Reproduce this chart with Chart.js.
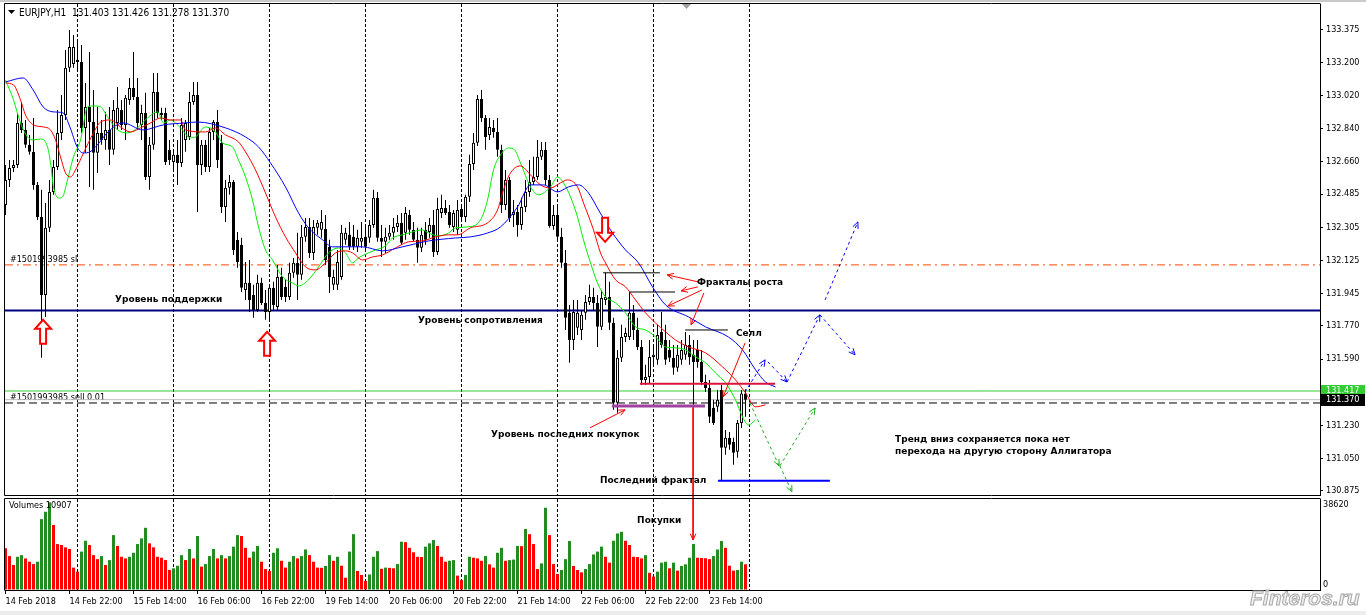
<!DOCTYPE html>
<html lang="ru">

<head>
  <meta charset="UTF-8">
  <title>EURJPY,H1</title>
  <style>
    html, body { margin: 0; padding: 0; background: #fff; }
    body { width: 1366px; height: 615px; position: relative; overflow: hidden; }
    #topEdge { position: absolute; left: 0; top: 0; width: 1366px; height: 2px; background: #c8c8c8; }
    #mainBox { position: absolute; left: 0; top: 0; width: 1366px; height: 497px; }
    #volBox { position: absolute; left: 0; top: 497px; width: 1366px; height: 118px; }
    #status { position: absolute; left: 0; top: 611px; width: 1366px; height: 4px; background: #ececec; }
    #mark {
      position: absolute; left: 1250px; top: 586px;
      font: italic bold 21px "Liberation Sans", Arial, sans-serif;
      color: #eeeeee; -webkit-text-stroke: 1px #a9a9a9;
    }
  </style>
</head>

<body>
  <div id="topEdge"></div>
  <div id="mainBox"><canvas id="mainChart" width="1366" height="497"></canvas></div>
  <div id="volBox"><canvas id="volChart" width="1366" height="118"></canvas></div>
  <div id="status"></div>
  <div id="mark">Finteros.ru</div>

  <script src="https://cdn.jsdelivr.net/npm/chart.js"></script>

  <script>
    /* EURJPY H1, bars 0..185 (14 Feb 06:00 .. 23 Feb 23:00) */
    const timeLabels = ['14 Feb 2018', '14 Feb 22:00', '15 Feb 14:00', '16 Feb 06:00', '16 Feb 22:00', '19 Feb 14:00',
      '20 Feb 06:00', '20 Feb 22:00', '21 Feb 14:00', '22 Feb 06:00', '22 Feb 22:00', '23 Feb 14:00']
    const labelBars = [0, 16, 32, 48, 64, 80, 96, 112, 128, 144, 160, 176]
    const daySeps = [18, 42, 66, 90, 114, 138, 162, 186]
    const priceTicks = [133.375, 133.200, 133.020, 132.840, 132.660, 132.485, 132.305, 132.125, 131.945,
      131.770, 131.590, 131.230, 131.050, 130.875]

    const opens = [132.426, 132.562, 132.627, 132.643, 132.871, 132.833, 132.752, 132.714, 132.535, 132.361,
      131.938, 132.302, 132.497, 132.632, 132.817, 132.914, 133.170, 133.191, 133.213, 133.202,
      132.844, 132.958, 132.876, 132.709, 132.817, 132.779, 132.833, 132.725, 132.871, 132.941,
      132.860, 132.996, 133.061, 133.012, 132.860, 132.925, 132.578, 132.752, 133.039, 132.914,
      132.925, 132.725, 132.659, 132.698, 132.654, 132.779, 132.795, 132.985, 133.023, 132.643,
      132.752, 132.632, 132.822, 132.876, 132.763, 132.415, 132.519, 132.551, 132.237, 132.210,
      131.965, 132.004, 131.938, 131.857, 132.004, 131.895, 131.846, 131.977, 131.873, 132.036,
      131.982, 131.927, 132.058, 132.112, 132.047, 132.253, 132.307, 132.166, 132.302, 132.291,
      132.296, 132.199, 131.993, 131.993, 132.036, 132.237, 132.264, 132.253, 132.199, 132.226,
      132.253, 132.248, 132.318, 132.465, 132.248, 132.226, 132.253, 132.275, 132.307, 132.329,
      132.275, 132.372, 132.291, 132.237, 132.194, 132.291, 132.280, 132.318, 132.171, 132.383,
      132.410, 132.388, 132.307, 132.291, 132.404, 132.361, 132.470, 132.648, 132.763, 133.001,
      132.898, 132.806, 132.844, 132.822, 132.725, 132.426, 132.562, 132.372, 132.388, 132.318,
      132.415, 132.497, 132.551, 132.578, 132.687, 132.725, 132.562, 132.312, 132.372, 132.253,
      132.112, 131.841, 131.694, 131.760, 131.748, 131.841, 131.900, 131.927, 131.895, 131.765,
      131.911, 131.927, 131.787, 131.353, 131.597, 131.710, 131.710, 131.841, 131.748, 131.656,
      131.477, 131.493, 131.602, 131.586, 131.737, 131.694, 131.640, 131.597, 131.543, 131.586,
      131.613, 131.667, 131.613, 131.640, 131.575, 131.466, 131.434, 131.326, 131.331, 131.423,
      131.109, 131.163, 131.141, 131.087, 131.244, 131.403]
    const highs = [132.643, 132.670, 132.670, 132.925, 132.980, 132.887, 132.806, 132.898, 132.551, 132.508,
      132.437, 132.562, 132.670, 132.941, 133.023, 133.267, 133.375, 133.348, 133.310, 133.294,
      133.088, 133.256, 133.050, 132.958, 132.887, 132.930, 132.958, 132.996, 133.066, 132.996,
      133.023, 133.115, 133.256, 133.115, 132.969, 133.034, 132.795, 133.142, 133.142, 132.953,
      132.953, 132.779, 132.725, 132.779, 132.898, 132.887, 133.039, 133.093, 133.093, 132.779,
      132.779, 132.844, 132.887, 132.941, 132.806, 132.562, 132.589, 132.562, 132.280, 132.248,
      132.117, 132.128, 131.993, 132.047, 132.031, 131.965, 131.993, 132.009, 132.101, 132.085,
      132.020, 132.112, 132.139, 132.275, 132.318, 132.356, 132.356, 132.345, 132.345, 132.399,
      132.372, 132.237, 132.074, 132.182, 132.318, 132.302, 132.334, 132.318, 132.291, 132.334,
      132.318, 132.345, 132.508, 132.497, 132.318, 132.302, 132.318, 132.356, 132.372, 132.383,
      132.415, 132.399, 132.334, 132.302, 132.302, 132.334, 132.356, 132.399, 132.465, 132.481,
      132.453, 132.426, 132.399, 132.453, 132.426, 132.481, 132.698, 132.817, 133.023, 133.050,
      132.914, 132.898, 132.887, 132.898, 132.752, 132.616, 132.578, 132.453, 132.426, 132.465,
      132.562, 132.670, 132.687, 132.779, 132.768, 132.768, 132.589, 132.426, 132.426, 132.302,
      132.182, 131.884, 131.911, 131.911, 131.857, 131.938, 131.993, 131.977, 131.938, 131.965,
      132.058, 132.009, 131.814, 131.640, 131.776, 131.760, 131.954, 131.884, 131.814, 131.694,
      131.559, 131.694, 131.667, 131.776, 131.846, 131.776, 131.694, 131.667, 131.667, 131.694,
      131.737, 131.721, 131.694, 131.694, 131.640, 131.505, 131.477, 131.369, 131.423, 131.450,
      131.206, 131.195, 131.163, 131.260, 131.423, 131.426]
    const lows = [132.372, 132.524, 132.605, 132.627, 132.817, 132.736, 132.698, 132.508, 132.345, 131.597,
      131.819, 132.280, 132.481, 132.616, 132.779, 132.887, 133.147, 133.170, 133.158, 132.817,
      132.709, 132.524, 132.508, 132.600, 132.752, 132.725, 132.643, 132.698, 132.833, 132.833,
      132.779, 132.969, 132.996, 132.833, 132.779, 132.562, 132.508, 132.725, 132.898, 132.887,
      132.643, 132.643, 132.616, 132.535, 132.632, 132.714, 132.779, 132.969, 132.388, 132.589,
      132.605, 132.605, 132.779, 132.627, 132.383, 132.334, 132.481, 132.155, 132.085, 131.954,
      131.911, 131.846, 131.814, 131.846, 131.884, 131.803, 131.803, 131.857, 131.857, 131.911,
      131.900, 131.911, 132.031, 131.911, 132.020, 132.226, 132.139, 132.128, 132.264, 132.248,
      132.101, 131.949, 131.965, 131.965, 132.020, 132.210, 132.182, 132.182, 132.171, 132.194,
      132.182, 132.221, 132.302, 132.226, 132.144, 132.166, 132.237, 132.237, 132.280, 132.210,
      132.237, 132.264, 132.226, 132.112, 132.171, 132.210, 132.248, 132.144, 132.155, 132.356,
      132.372, 132.302, 132.280, 132.264, 132.334, 132.334, 132.442, 132.616, 132.746, 132.876,
      132.725, 132.779, 132.790, 132.687, 132.383, 132.399, 132.334, 132.307, 132.253, 132.291,
      132.388, 132.470, 132.535, 132.562, 132.670, 132.535, 132.302, 132.291, 132.237, 132.085,
      131.748, 131.570, 131.640, 131.721, 131.694, 131.803, 131.884, 131.857, 131.656, 131.748,
      131.884, 131.748, 131.315, 131.299, 131.575, 131.683, 131.694, 131.694, 131.640, 131.450,
      131.450, 131.461, 131.559, 131.559, 131.651, 131.559, 131.575, 131.505, 131.521, 131.559,
      131.586, 131.559, 131.342, 131.543, 131.450, 131.412, 131.244, 131.233, 131.304, 130.935,
      131.071, 131.098, 131.017, 131.055, 131.217, 131.278]
    const closes = [132.562, 132.627, 132.643, 132.871, 132.833, 132.752, 132.714, 132.535, 132.361, 131.938,
      132.302, 132.497, 132.632, 132.817, 132.914, 133.170, 133.283, 133.283, 133.202, 132.844,
      132.958, 132.876, 132.709, 132.817, 132.779, 132.833, 132.725, 132.941, 132.953, 132.860,
      133.007, 133.061, 133.012, 132.871, 132.925, 132.578, 132.752, 133.039, 132.925, 132.925,
      132.659, 132.670, 132.698, 132.654, 132.860, 132.871, 132.985, 133.023, 132.643, 132.752,
      132.632, 132.822, 132.876, 132.670, 132.415, 132.519, 132.551, 132.182, 132.117, 131.977,
      132.004, 131.911, 131.857, 132.004, 131.895, 131.846, 131.977, 131.884, 132.036, 131.927,
      131.927, 132.058, 132.112, 132.047, 132.253, 132.307, 132.166, 132.307, 132.329, 132.334,
      132.128, 132.036, 132.036, 132.117, 132.275, 132.275, 132.199, 132.199, 132.248, 132.248,
      132.199, 132.318, 132.465, 132.248, 132.226, 132.253, 132.275, 132.307, 132.329, 132.221,
      132.383, 132.291, 132.237, 132.194, 132.264, 132.237, 132.318, 132.171, 132.404, 132.410,
      132.383, 132.318, 132.383, 132.399, 132.361, 132.470, 132.648, 132.763, 133.001, 132.898,
      132.795, 132.849, 132.822, 132.725, 132.426, 132.562, 132.356, 132.388, 132.318, 132.415,
      132.497, 132.551, 132.578, 132.687, 132.725, 132.562, 132.312, 132.372, 132.253, 132.112,
      131.814, 131.694, 131.846, 131.841, 131.830, 131.900, 131.927, 131.895, 131.765, 131.922,
      131.927, 131.787, 131.353, 131.597, 131.710, 131.732, 131.841, 131.748, 131.656, 131.477,
      131.493, 131.602, 131.613, 131.721, 131.667, 131.586, 131.597, 131.543, 131.613, 131.640,
      131.667, 131.602, 131.575, 131.575, 131.466, 131.434, 131.277, 131.244, 131.369, 131.109,
      131.163, 131.125, 131.082, 131.244, 131.403, 131.370]
    const volumes = [17700, 14400, 10600, 14100, 14800, 13400, 12000, 11000, 12000, 30100,
      33200, 37200, 27600, 19500, 19100, 18100, 17400, 9500, 7800, 16300,
      20900, 19100, 14800, 13100, 14400, 10600, 12700, 23300, 18700, 14100,
      13400, 14100, 15800, 19500, 21900, 26400, 19800, 18100, 14100, 13700,
      12700, 8500, 9200, 10300, 14800, 12700, 17400, 13400, 22900, 9900,
      11000, 14400, 17400, 13400, 14800, 13400, 14400, 18400, 23300, 22900,
      17900, 13700, 16300, 18700, 12000, 8900, 8100, 15800, 17700, 12400,
      9500, 12000, 14400, 13400, 14400, 17200, 14800, 12000, 9500, 9400,
      10200, 14800, 12400, 14100, 10300, 5200, 16300, 23700, 8100, 6400,
      3800, 6600, 14100, 16500, 9000, 9500, 9400, 9200, 11000, 20500,
      20300, 17900, 16000, 14100, 14000, 18400, 19800, 21200, 18700, 14100,
      12000, 12400, 12700, 6100, 4200, 6400, 14100, 13700, 13400, 12400,
      14400, 10900, 9500, 15800, 17900, 12400, 12700, 12900, 18700, 18600,
      25900, 23700, 19500, 8900, 11300, 34900, 23300, 11000, 6800, 8500,
      13100, 20800, 10200, 8500, 7500, 8900, 11000, 15100, 16300, 18400,
      14100, 11600, 20900, 24000, 24700, 20900, 19100, 14100, 14000, 13400,
      14800, 7300, 5700, 7800, 11600, 12000, 9200, 11600, 8200, 10200,
      10900, 13700, 19500, 13700, 13600, 13500, 13100, 14400, 17200, 20800,
      17900, 10300, 8200, 8500, 12000, 10907]

    /* Alligator (read at points along each line, [bar, price]) */
    const jaw = [[0, 133.093], [4.4, 133.115], [6.9, 133.050], [9.4, 132.958], [11.9, 132.931], [14.4, 132.925],
      [16.1, 132.849], [17.9, 132.741], [19.4, 132.708], [21.1, 132.714], [23.6, 132.768], [25.4, 132.817],
      [29.4, 132.871], [34.4, 132.833], [39.4, 132.860], [44.9, 132.871], [48, 132.876], [55, 132.844],
      [60, 132.795], [63.25, 132.741], [66.25, 132.654], [70, 132.524], [73.25, 132.383], [75.75, 132.302],
      [79.25, 132.237], [81.75, 132.199], [89.25, 132.199], [94.25, 132.177], [99.25, 132.199], [105.75, 132.231],
      [112.5, 132.247], [116.25, 132.253], [120.5, 132.274], [123.75, 132.307], [128, 132.415], [131.25, 132.535],
      [134.5, 132.535], [138, 132.497], [140.75, 132.524], [143.25, 132.535], [145.75, 132.491], [148.25, 132.399],
      [151.75, 132.274], [155, 132.182], [158.25, 132.112], [161.75, 131.982], [165, 131.884], [170.75, 131.819],
      [175, 131.765], [180.75, 131.710], [184.25, 131.640], [187.5, 131.532], [190, 131.466], [192.5, 131.439]]
    const teeth = [[0, 133.088], [2, 133.077], [3.75, 132.996], [5, 132.914], [7, 132.860], [9.5, 132.849],
      [11.25, 132.833], [12.5, 132.779], [13.75, 132.687], [15, 132.600], [16.25, 132.578], [17.5, 132.616],
      [19.5, 132.708], [22, 132.817], [23.75, 132.876], [26.25, 132.887], [28.75, 132.849], [31.25, 132.822],
      [33.75, 132.844], [36.25, 132.871], [38.75, 132.898], [41.25, 132.887], [43.75, 132.887], [45, 132.833],
      [50, 132.822], [52.5, 132.844], [55, 132.806], [58.25, 132.768], [60, 132.714], [62.5, 132.616],
      [65, 132.491], [67.5, 132.361], [70, 132.253], [72.5, 132.166], [75, 132.090], [77.5, 132.074],
      [80, 132.112], [82.5, 132.166], [85, 132.177], [86.75, 132.166], [89.25, 132.128], [91.75, 132.144],
      [94.25, 132.155], [97.5, 132.193], [100.75, 132.226], [104.25, 132.231], [107.5, 132.253], [110.75, 132.264],
      [113, 132.264], [116.25, 132.302], [120.5, 132.329], [123, 132.399], [124.5, 132.508], [126.25, 132.600],
      [128.75, 132.638], [131.25, 132.589], [133.75, 132.535], [136.25, 132.518], [138.75, 132.546], [140.5, 132.562],
      [143, 132.524], [144.5, 132.437], [147, 132.291], [148.75, 132.166], [150, 132.112], [152.5, 132.020],
      [155, 131.982], [157.5, 131.911], [160, 131.841], [162.5, 131.786], [165, 131.738], [167.5, 131.694],
      [170.75, 131.656], [175, 131.624], [179.25, 131.548], [182.5, 131.477], [185, 131.407], [187.5, 131.331],
      [190, 131.342]]
    const lips = [[0, 133.104], [2, 132.996], [3.75, 132.871], [5.5, 132.795], [7, 132.779], [8.75, 132.784],
      [10.5, 132.741], [11.25, 132.654], [12, 132.524], [13.25, 132.464], [14.25, 132.470], [15.5, 132.562],
      [17, 132.687], [18.75, 132.779], [20.5, 132.958], [22, 132.963], [23.75, 132.958], [25.5, 132.904],
      [28, 132.833], [30.5, 132.817], [33, 132.844], [35.5, 132.898], [38, 132.931], [39.5, 132.871],
      [41.25, 132.887], [43.75, 132.844], [46.25, 132.790], [47.5, 132.795], [50, 132.849], [52.5, 132.822],
      [54.25, 132.762], [56.75, 132.741], [58.25, 132.670], [60, 132.578], [61.75, 132.453], [63.25, 132.307],
      [65, 132.182], [66.75, 132.128], [69.25, 132.036], [71.75, 132.003], [73.25, 131.987], [75.75, 132.020],
      [78.25, 132.090], [80.75, 132.166], [83.25, 132.193], [85, 132.166], [86.75, 132.112], [88.25, 132.139],
      [90.75, 132.166], [92.5, 132.182], [95, 132.204], [96.75, 132.247], [99.25, 132.264], [101.75, 132.280],
      [104.25, 132.291], [105.75, 132.274], [108.25, 132.258], [110.75, 132.274], [112.5, 132.302], [115.5, 132.307],
      [118.75, 132.345], [120.5, 132.453], [122, 132.616], [123.75, 132.697], [125.75, 132.735], [127.25, 132.725],
      [128.75, 132.654], [131.25, 132.524], [133.25, 132.481], [136.25, 132.524], [138, 132.578], [139.5, 132.546],
      [141.25, 132.470], [143, 132.361], [144.5, 132.236], [146.25, 132.112], [148, 132.003], [150, 131.928],
      [152.5, 131.895], [155, 131.841], [157.5, 131.765], [160, 131.748], [162.5, 131.711], [165, 131.656],
      [167.5, 131.651], [170, 131.640], [172.5, 131.602], [175, 131.570], [177.5, 131.515], [180, 131.461],
      [182.5, 131.369], [184.25, 131.277], [185.75, 131.233], [187.5, 131.260]]

    /* drawn objects on the chart */
    const levels = [
      { price: 132.101, color: '#ff4500', width: 1, dash: [8, 4, 2, 4] },
      { price: 131.854, color: '#000080', width: 2, dash: [] },
      { price: 131.417, color: '#32cd32', width: 1, dash: [] },
      { price: 131.370, color: '#c0c0c0', width: 1, dash: [] },
      { price: 131.352, color: '#000000', width: 1, dash: [8, 4] }
    ]
    const fractalLines = [[149.4, 163.6, 132.058], [156.1, 167.4, 131.954], [169.9, 180.6, 131.748]]
    const zoneLines = [
      { from: 158.6, to: 192.4, price: 131.456, color: '#dc143c', width: 2 },
      { from: 151.6, to: 174.9, price: 131.336, color: '#a040a0', width: 3 },
      { from: 178.1, to: 206.1, price: 130.930, color: '#0000ff', width: 2 }
    ]
    const forecastBlue = [[[184.9, 131.412], [189.9, 131.586]], [[190.6, 131.575], [195.4, 131.466]],
      [[195.4, 131.466], [203.6, 131.830]], [[203.6, 131.830], [212.4, 131.613]], [[204.9, 131.911], [213.1, 132.334]]]
    const forecastGreen = [[[186.1, 131.352], [193.4, 131.011]], [[193.6, 131.011], [202.4, 131.325]],
      [[193.6, 131.011], [196.6, 130.870]]]
    const pointers = [[[173.1, 132.009], [165.4, 132.047]], [[173.1, 131.982], [168.9, 131.960]],
      [[174.1, 131.965], [165.6, 131.878]], [[174.6, 131.949], [171.4, 131.776]],
      [[184.9, 131.678], [179.4, 131.385]], [[146.1, 131.217], [154.9, 131.315]]]
    const buyArrowBar = 171.9
    const signals = [{ bar: 9.4, price: 131.803, dir: 1 }, { bar: 65.4, price: 131.738, dir: 1 }, { bar: 149.9, price: 132.226, dir: -1 }]
    const notes = [
      { text: 'Уровень поддержки', bar: 27.4, price: 131.911 },
      { text: 'Уровень сопротивления', bar: 103.1, price: 131.797 },
      { text: 'Фракталы роста', bar: 172.9, price: 132.003 },
      { text: 'Селл', bar: 182.6, price: 131.727 },
      { text: 'Уровень последних покупок', bar: 121.4, price: 131.179 },
      { text: 'Последний фрактал', bar: 148.6, price: 130.930 },
      { text: 'Тренд вниз сохраняется пока нет', bar: 222.4, price: 131.152 },
      { text: 'перехода на другую сторону Аллигатора', bar: 222.4, price: 131.087 }
    ]
    const orderNotes = [{ text: '#1501993985 sl', bar: 1.1, price: 132.128 }, { text: '#1501993985 sell 0.01', bar: 1.1, price: 131.380 }]

    const X_MIN = -0.125, X_MAX = 328.625
    const FONT = '"DejaVu Sans Condensed", "DejaVu Sans", sans-serif'
    Chart.defaults.font.family = FONT
    Chart.defaults.font.size = 9
    Chart.defaults.color = '#000'

    const bars = opens.map((_, i) => i)
    const pts = arr => arr.map(([x, y]) => ({ x, y }))
    function seg(data, color, width, dash, extra) {
      return Object.assign({
        type: 'line', data: pts(data), borderColor: color, borderWidth: width, borderDash: dash || [],
        pointRadius: 0, tension: 0, fill: false, order: 1
      }, extra || {})
    }
    function noPad(s) { s.paddingTop = 0; s.paddingBottom = 0; s.paddingLeft = 0; s.paddingRight = 0 }
    function arrowHead(ctx, a, b, color) {
      const ang = Math.atan2(b.y - a.y, b.x - a.x), len = 7, spread = 0.42
      ctx.save()
      ctx.setLineDash([]); ctx.strokeStyle = color; ctx.lineWidth = 1
      ctx.beginPath()
      ctx.moveTo(b.x - len * Math.cos(ang - spread), b.y - len * Math.sin(ang - spread))
      ctx.lineTo(b.x, b.y)
      ctx.lineTo(b.x - len * Math.cos(ang + spread), b.y - len * Math.sin(ang + spread))
      ctx.stroke()
      ctx.restore()
    }
    const arrowPlugin = {
      id: 'arrowHeads',
      afterDatasetsDraw(chart) {
        chart.data.datasets.forEach((ds, i) => {
          if (!ds.arrow) return
          const d = chart.getDatasetMeta(i).data
          arrowHead(chart.ctx, d[d.length - 2], d[d.length - 1], ds.borderColor)
        })
      }
    }
    function daySeparators(chart) {
      const { ctx, chartArea: a, scales: { x } } = chart
      ctx.save()
      ctx.strokeStyle = '#000'; ctx.lineWidth = 1; ctx.setLineDash([3, 2])
      daySeps.forEach(v => {
        const px = Math.floor(x.getPixelForValue(v)) + 0.5
        ctx.beginPath(); ctx.moveTo(px, a.top); ctx.lineTo(px, a.bottom); ctx.stroke()
      })
      ctx.restore()
    }

    /* main price chart */
    const mainSets = [
      { type: 'bar', data: bars.map(i => ({ x: i, y: [lows[i], highs[i]] })), backgroundColor: '#000', barThickness: 1,
        grouped: false, inflateAmount: 0, borderWidth: 0, order: 5 },
      { type: 'bar', data: bars.map(i => ({ x: i, y: [opens[i], closes[i]] })),
        backgroundColor: bars.map(i => closes[i] >= opens[i] ? '#ffffff' : '#000000'),
        borderColor: '#000', borderWidth: 1, borderSkipped: false, barThickness: 3, minBarLength: 1,
        grouped: false, inflateAmount: 0, order: 4 },
      seg(jaw, '#0000ff', 1, [], { cubicInterpolationMode: 'monotone', order: 3 }),
      seg(teeth, '#ff0000', 1, [], { cubicInterpolationMode: 'monotone', order: 3 }),
      seg(lips, '#00ee00', 1, [], { cubicInterpolationMode: 'monotone', order: 3 })
    ]
    levels.forEach(l => mainSets.push(seg([[X_MIN, l.price], [X_MAX, l.price]], l.color, l.width, l.dash, { order: 6 })))
    fractalLines.forEach(f => mainSets.push(seg([[f[0], f[2]], [f[1], f[2]]], '#000', 1)))
    zoneLines.forEach(z => mainSets.push(seg([[z.from, z.price], [z.to, z.price]], z.color, z.width)))
    forecastBlue.forEach(p => mainSets.push(seg(p, '#0000ff', 1, [3, 3], { arrow: true })))
    forecastGreen.forEach(p => mainSets.push(seg(p, '#1faa1f', 1, [3, 3], { arrow: true })))
    pointers.forEach(p => mainSets.push(seg(p, '#ff0000', 1, [], { arrow: true })))
    mainSets.push(seg([[buyArrowBar, 131.342], [buyArrowBar, 130.70]], '#ff0000', 1, [], { clip: false }))

    function hollowArrow(ctx, x, y, s) {
      ctx.save()
      ctx.beginPath()
      ctx.moveTo(x, y)
      ctx.lineTo(x + 8, y + s * 9); ctx.lineTo(x + 3, y + s * 9); ctx.lineTo(x + 3, y + s * 24)
      ctx.lineTo(x - 3, y + s * 24); ctx.lineTo(x - 3, y + s * 9); ctx.lineTo(x - 8, y + s * 9)
      ctx.closePath()
      ctx.fillStyle = '#fff'; ctx.fill()
      ctx.strokeStyle = '#ff0000'; ctx.lineWidth = 2; ctx.stroke()
      ctx.restore()
    }
    function priceBox(ctx, y, text, bg) {
      ctx.fillStyle = bg
      ctx.fillRect(1321, Math.round(y) - 6, 44, 12)
      ctx.fillStyle = '#fff'
      ctx.font = '9px ' + FONT
      ctx.textBaseline = 'middle'; ctx.textAlign = 'left'
      ctx.fillText(text, 1326, Math.round(y))
    }

    const mainPlugin = {
      id: 'mt4Main',
      beforeDatasetsDraw(chart) {
        const { ctx, scales: { x, y } } = chart
        daySeparators(chart)
        ctx.save()
        ctx.font = '9px ' + FONT; ctx.fillStyle = '#000'; ctx.textBaseline = 'middle'
        orderNotes.forEach(n => ctx.fillText(n.text, x.getPixelForValue(n.bar), y.getPixelForValue(n.price)))
        ctx.restore()
      },
      afterDatasetsDraw(chart) {
        const { ctx, scales: { x, y } } = chart
        signals.forEach(s => hollowArrow(ctx, x.getPixelForValue(s.bar), y.getPixelForValue(s.price), s.dir))
        ctx.save()
        ctx.font = 'bold 9px "DejaVu Sans", sans-serif'; ctx.fillStyle = '#000'
        ctx.textBaseline = 'middle'; ctx.textAlign = 'left'
        notes.forEach(n => ctx.fillText(n.text, x.getPixelForValue(n.bar), y.getPixelForValue(n.price)))
        // header
        ctx.beginPath(); ctx.moveTo(8, 10); ctx.lineTo(15, 10); ctx.lineTo(11.5, 14); ctx.closePath(); ctx.fill()
        ctx.font = '10px ' + FONT
        ctx.fillText('EURJPY,H1  ' + [opens[185], highs[185], lows[185], closes[185]].map(v => v.toFixed(3)).join(' '), 19, 13)
        // shift marker
        ctx.fillStyle = '#a0a0a0'
        ctx.beginPath(); ctx.moveTo(682, 4); ctx.lineTo(691, 4); ctx.lineTo(686.5, 9); ctx.closePath(); ctx.fill()
        ctx.restore()
      },
      afterDraw(chart) {
        const { ctx, scales: { y } } = chart
        ctx.save()
        priceBox(ctx, y.getPixelForValue(131.417), '131.417', '#32cd32')
        priceBox(ctx, y.getPixelForValue(closes[185]), closes[185].toFixed(3), '#000')
        ctx.strokeStyle = '#000'; ctx.lineWidth = 1; ctx.setLineDash([])
        ctx.beginPath()
        ctx.moveTo(1320.5, 3.5); ctx.lineTo(4.5, 3.5); ctx.lineTo(4.5, 495.5); ctx.lineTo(1320.5, 495.5)
        ctx.stroke()
        ctx.restore()
      }
    }

    new Chart(document.getElementById('mainChart'), {
      type: 'bar',
      data: { datasets: mainSets },
      options: {
        responsive: false, animation: false, events: [],
        layout: { padding: { left: 5, top: 4, right: 0, bottom: 2 } },
        plugins: { legend: { display: false }, tooltip: { enabled: false } },
        scales: {
          x: { type: 'linear', min: X_MIN, max: X_MAX, offset: false, display: false },
          y: {
            position: 'right', min: 130.853, max: 133.516,
            afterFit: s => { s.width = 46; noPad(s) },
            afterBuildTicks: s => { s.ticks = priceTicks.map(v => ({ value: v })) },
            ticks: { callback: v => v.toFixed(3), padding: 3, autoSkip: false },
            grid: { drawOnChartArea: false, drawTicks: true, tickLength: 3, color: '#000' },
            border: { display: true, color: '#000' }
          }
        }
      },
      plugins: [mainPlugin, arrowPlugin]
    })

    /* volumes */
    const volColors = volumes.map((v, i) => i > 0 && v > volumes[i - 1] ? '#228b22' : '#ff0000')
    const volPlugin = {
      id: 'mt4Vol',
      beforeDatasetsDraw(chart) { daySeparators(chart) },
      afterDatasetsDraw(chart) {
        const { ctx, scales: { x, y } } = chart
        ctx.save()
        ctx.fillStyle = '#000'; ctx.textBaseline = 'middle'; ctx.textAlign = 'left'
        ctx.font = '9px ' + FONT
        ctx.fillText('Volumes ' + volumes[volumes.length - 1], 9, 9)
        ctx.fillText(String(y.max), 1323, 8)
        ctx.fillText('0', 1323, 88)
        ctx.font = 'bold 9px "DejaVu Sans", sans-serif'
        ctx.fillText('Покупки', x.getPixelForValue(157.9), y.getPixelForValue(29300))
        ctx.strokeStyle = '#000'; ctx.lineWidth = 1
        ctx.beginPath(); ctx.moveTo(4.5, 93.5); ctx.lineTo(4.5, 1.5); ctx.lineTo(1320.5, 1.5); ctx.stroke()
        ctx.restore()
      }
    }

    new Chart(document.getElementById('volChart'), {
      type: 'bar',
      data: {
        datasets: [
          { type: 'bar', data: bars.map(i => ({ x: i, y: volumes[i] })), backgroundColor: volColors,
            barThickness: 3, grouped: false, inflateAmount: 0, borderWidth: 0, order: 2 },
          seg([[buyArrowBar, 40500], [buyArrowBar, 21220]], '#ff0000', 1, [], { arrow: true, clip: false })
        ]
      },
      options: {
        responsive: false, animation: false, events: [],
        layout: { padding: { left: 5, top: 2, right: 0, bottom: 0 } },
        plugins: { legend: { display: false }, tooltip: { enabled: false } },
        scales: {
          x: {
            type: 'linear', min: X_MIN, max: X_MAX, offset: false, position: 'bottom',
            afterFit: s => { s.height = 25; noPad(s) },
            afterBuildTicks: s => { s.ticks = labelBars.map(v => ({ value: v })) },
            ticks: { callback: v => timeLabels[labelBars.indexOf(v)], align: 'start', padding: 2,
              autoSkip: false, maxRotation: 0, minRotation: 0 },
            grid: { drawOnChartArea: false, tickLength: 4, color: '#000', offset: false },
            border: { display: true, color: '#000' }
          },
          y: {
            position: 'right', min: 0, max: 38620,
            afterFit: s => { s.width = 46; noPad(s) },
            ticks: { display: false },
            grid: { drawOnChartArea: false, drawTicks: false },
            border: { display: true, color: '#000' }
          }
        }
      },
      plugins: [volPlugin, arrowPlugin]
    })
  </script>
</body>

</html>
